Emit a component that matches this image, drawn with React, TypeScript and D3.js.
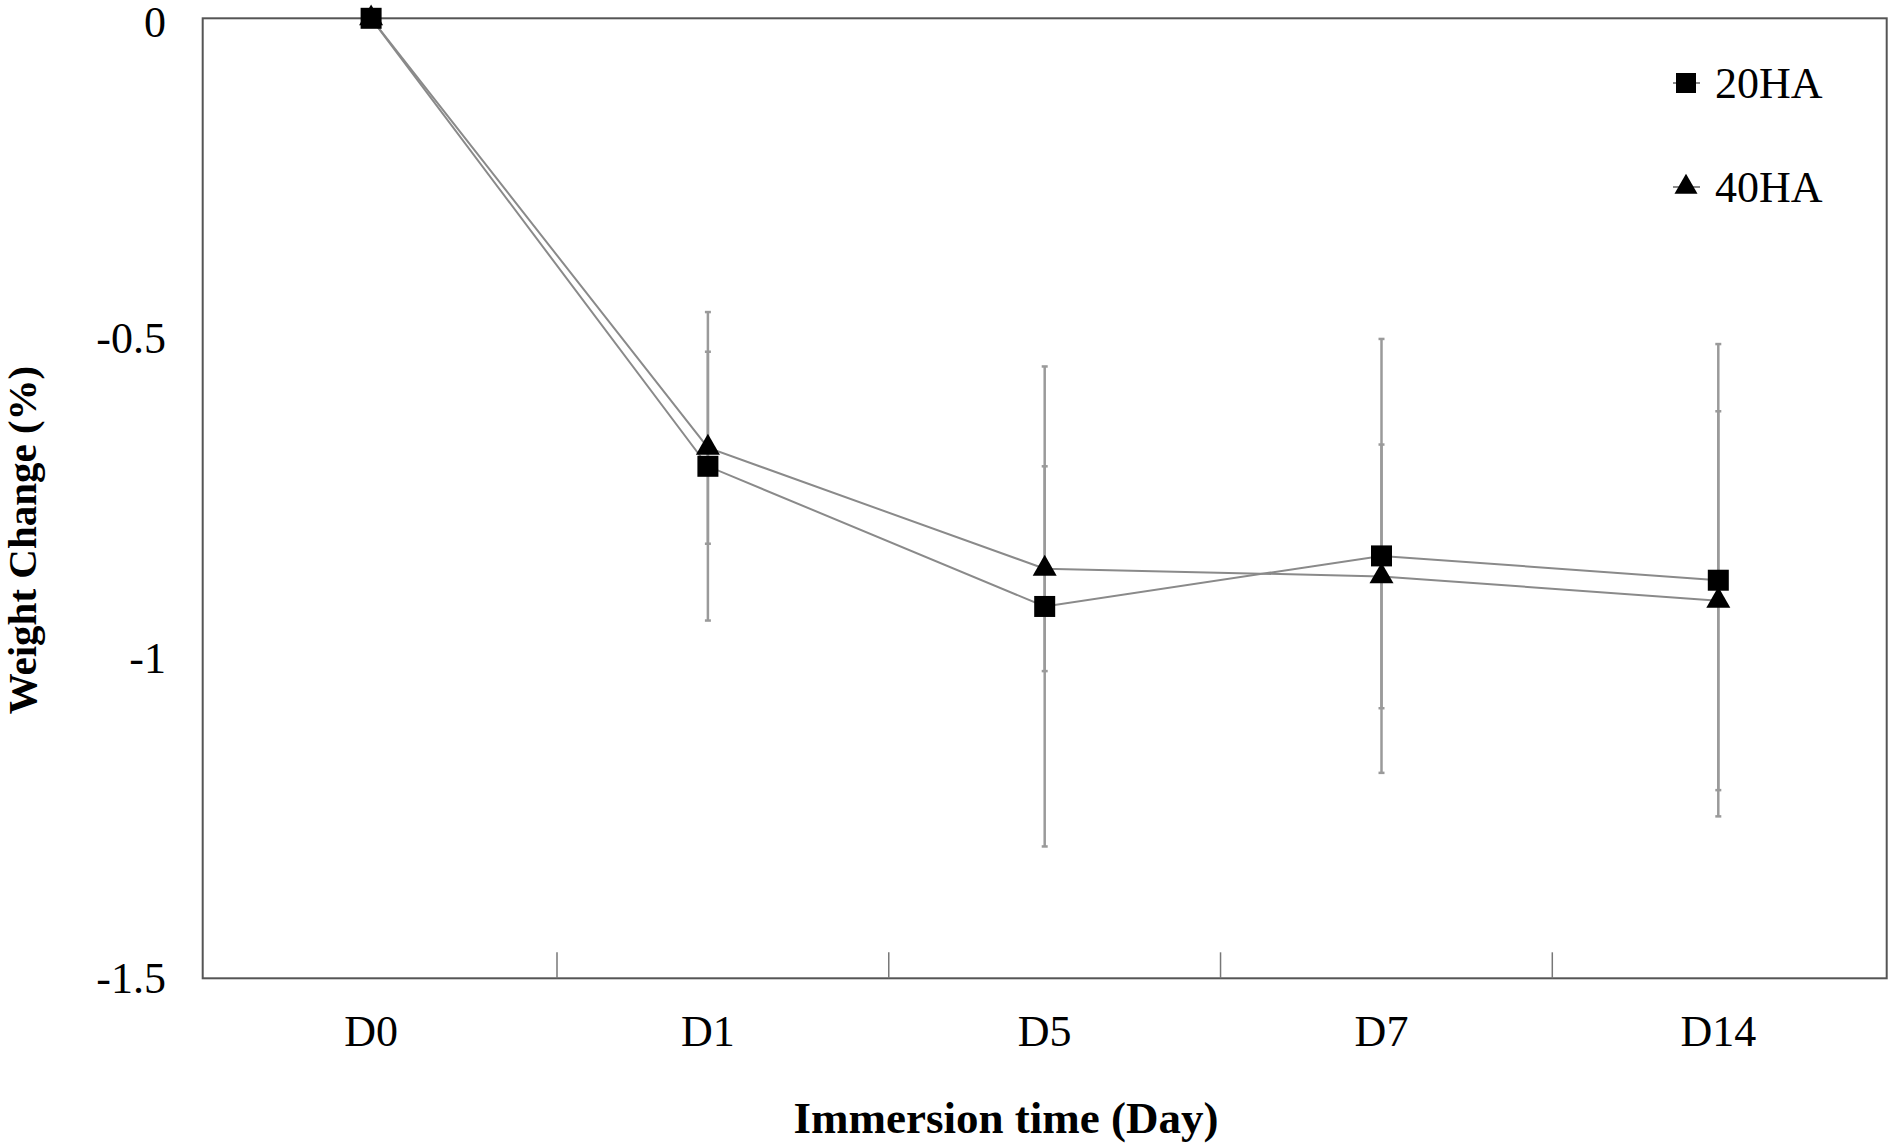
import React from "react";
import * as d3 from "d3";

const categories = ["D0", "D1", "D5", "D7", "D14"];
const ha20Values = [0, -0.7, -0.919, -0.84, -0.878];
const ha20Errors = [0, 0.241, 0.375, 0.339, 0.369];
const ha40Values = [0, -0.671, -0.86, -0.872, -0.91];
const ha40Errors = [0, 0.15, 0.16, 0.206, 0.296];
const yTicks = [0, -0.5, -1, -1.5];
const yTickLabels = ["0", "-0.5", "-1", "-1.5"];
const seriesNames = ["20HA", "40HA"];

const W = 1890;
const H = 1144;
const L = 202.7;
const R = 1886.7;
const T = 18.3;
const B = 978.3;
const FONT = "'Liberation Serif', 'Times New Roman', Times, serif";

export default function App() {
  const x = d3.scaleBand<string>().domain(categories).range([L, R]).padding(0);
  const cx = (c: string) => (x(c) as number) + x.bandwidth() / 2;
  const y = d3.scaleLinear().domain([-1.5, 0]).range([B, T]);
  // divider tick marks on the category axis (between categories)
  const divider = d3.scaleLinear().domain([1, 4]).range([557, 1552.3]);
  const dividers = [1, 2, 3, 4];

  const line = d3
    .line<number>()
    .x((_, i) => cx(categories[i]))
    .y((v) => y(v));

  const squarePath = d3.symbol(d3.symbolSquare, 441)()!;
  const triPath = d3.symbol(d3.symbolTriangle, 250)()!;
  const legSquare = d3.symbol(d3.symbolSquare, 400)()!;
  const legTri = d3.symbol(d3.symbolTriangle, 230)()!;

  const series = [
    { name: seriesNames[0], vals: ha20Values, errs: ha20Errors, path: squarePath, leg: legSquare },
    { name: seriesNames[1], vals: ha40Values, errs: ha40Errors, path: triPath, leg: legTri },
  ];

  return (
    <svg
      width={W}
      height={H}
      style={{ position: "absolute", left: 0, top: 0, background: "#fff" }}
      fontFamily={FONT}
    >
      <rect x={0} y={0} width={W} height={H} fill="#fff" />
      {/* series lines */}
      {series.map((s) => (
        <path key={s.name + "l"} d={line(s.vals)!} fill="none" stroke="#8a8a8a" strokeWidth={2} />
      ))}
      {/* error bars */}
      {series.map((s) =>
        s.vals.map((v, i) =>
          s.errs[i] > 0 ? (
            <g key={s.name + "e" + i} stroke="#9a9a9a" strokeWidth={2.5}>
              <line x1={cx(categories[i])} x2={cx(categories[i])} y1={y(v + s.errs[i])} y2={y(v - s.errs[i])} />
              <line x1={cx(categories[i]) - 3} x2={cx(categories[i]) + 3} y1={y(v + s.errs[i])} y2={y(v + s.errs[i])} />
              <line x1={cx(categories[i]) - 3} x2={cx(categories[i]) + 3} y1={y(v - s.errs[i])} y2={y(v - s.errs[i])} />
            </g>
          ) : null
        )
      )}
      {/* frame */}
      <rect x={L} y={T} width={R - L} height={B - T} fill="none" stroke="#555" strokeWidth={2} />
      {dividers.map((d) => (
        <line key={"dv" + d} x1={divider(d)} x2={divider(d)} y1={B} y2={B - 26} stroke="#777" strokeWidth={1.5} />
      ))}
      {/* markers */}
      {series.map((s) =>
        s.vals.map((v, i) => (
          <path
            key={s.name + "m" + i}
            d={s.path}
            transform={`translate(${cx(categories[i])},${y(v)})`}
            fill="#000"
          />
        ))
      )}
      {/* y tick labels */}
      {yTicks.map((t, i) => (
        <text
          key={"yt" + i}
          x={166}
          y={Math.max(y(t), 22)}
          dy="0.34em"
          textAnchor="end"
          fontSize={44}
          fill="#000"
        >
          {yTickLabels[i]}
        </text>
      ))}
      {/* x tick labels */}
      {categories.map((c) => (
        <text key={"xt" + c} x={cx(c)} y={1046} textAnchor="middle" fontSize={44} fill="#000">
          {c}
        </text>
      ))}
      {/* axis titles */}
      <text x={1006} y={1133} textAnchor="middle" fontSize={45} fontWeight="bold" fill="#000">
        Immersion time (Day)
      </text>
      <text
        transform={`translate(36,540) rotate(-90)`}
        textAnchor="middle"
        fontSize={41}
        fontWeight="bold"
        fill="#000"
      >
        Weight Change (%)
      </text>
      {/* legend */}
      {series.map((s, i) => {
        const ly = 83 + i * 104;
        return (
          <g key={"lg" + s.name}>
            <line x1={1673} x2={1700} y1={ly} y2={ly} stroke="#8a8a8a" strokeWidth={2} />
            <path d={s.leg} transform={`translate(1686,${ly})`} fill="#000" />
            <text x={1715} y={ly} dy="0.34em" fontSize={44} fill="#000">
              {s.name}
            </text>
          </g>
        );
      })}
    </svg>
  );
}
